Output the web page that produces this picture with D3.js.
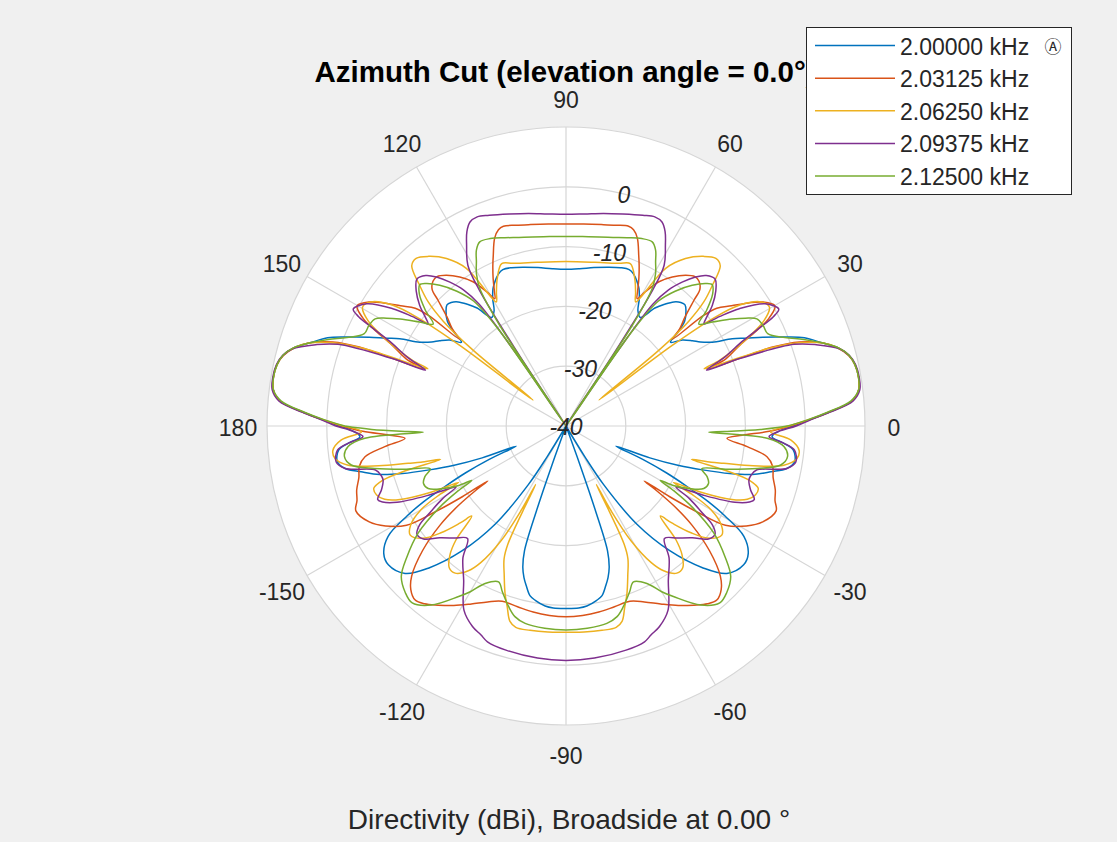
<!DOCTYPE html>
<html><head><meta charset="utf-8">
<script src="https://cdn.jsdelivr.net/npm/d3@7"></script>
<style>
body{margin:0;background:#f0f0f0;}
text{font-family:"Liberation Sans",Arial,Helvetica,sans-serif;}
</style>
</head><body>
<svg id="chart" width="1117" height="842"></svg>
<script>
// ---------- data (angle in degrees, directivity in dBi) ----------
const seriesNames = ["2.00000 kHz","2.03125 kHz","2.06250 kHz","2.09375 kHz","2.12500 kHz"];
const seriesColors = ["#0072BD","#D95319","#EDB120","#7E2F8E","#77AC30"];
const angleTicks = [0,30,60,90,120,150,180,-150,-120,-90,-60,-30];
const magRings = [-30,-20,-10,0,10];
const magLabels = [-40,-30,-20,-10,0];
const titleText = "Azimuth Cut (elevation angle = 0.0°)";
const captionText = "Directivity (dBi), Broadside at 0.00 °";

const blue = [[-180,-2],[-178.5,-4.5],[-177,-5.5],[-175.5,-3.5],[-174,-1.8],[-171.1,-1.3],[-169.1,-2.4],[-167.4,-4.9],[-165.4,-7.8],[-163.8,-11.5],[-162.2,-16],[-160.7,-20],[-159.2,-25],[-158,-31],[-156.5,-26],[-155,-21.5],[-153.5,-17.5],[-152,-13],[-150.5,-9.5],[-148.2,-5],[-145,-2.8],[-142,-2.3],[-137.5,-3.5],[-134,-7],[-129.8,-12.8],[-125.8,-19.8],[-122.7,-28.4],[-121.5,-34],[-120.5,-40],[-111.5,-40],[-109.8,-33],[-109.2,-25],[-108.4,-18],[-107,-15.3],[-105.5,-13.7],[-104,-12.5],[-102,-11],[-100,-10.4],[-96.6,-9.7],[-94,-9.5],
[-90,-9.5],[-86,-9.5],[-83.4,-9.7],[-80,-10.4],[-78,-11],[-76,-12.5],[-74.5,-13.7],[-73,-15.3],[-71.6,-18],[-70.8,-25],[-70.2,-33],[-68.5,-40],[-59.5,-40],[-58.5,-34],[-57.3,-28.4],[-54.2,-19.8],[-50.2,-12.8],[-46,-7],[-42.5,-3.5],[-38,-2.3],[-35,-2.8],[-31.8,-5],[-29.5,-9.5],[-28,-13],[-26.5,-17.5],[-25,-21.5],[-23.5,-26],[-22,-31],[-20.8,-25],[-19.3,-20],[-17.8,-16],[-16.2,-11.5],[-14.6,-7.8],[-12.6,-4.9],[-10.9,-2.4],[-8.9,-1.3],[-6,-1.8],[-4.5,-3.5],[-3,-5.5],[-1.5,-4.5],[0,-2],
[1.5,0.8],[3,4],[5,8],[7,9.3],[9.5,9.6],[12,9.4],[14,8.8],[16,7.4],[18,5],[20.3,2.5],[22,-0.3],[24.3,-3.9],[26,-6.5],[27.7,-8.6],[29.8,-11.8],[32,-13.5],[34,-14.5],[36.5,-15.8],[38.7,-17.6],[40,-15.5],[41.5,-13.5],[43.6,-12.3],[45.5,-11.6],[47.1,-11.8],[49,-12.5],[51,-13.8],[53,-15.3],[55.6,-18],[58,-17.3],[60,-15.5],[62,-14],[64,-13],[66,-12.2],[68,-11.8],[71,-12],[75,-12.5],[80,-13.1],[85,-13.6],[90,-13.8],
[95,-13.6],[100,-13.1],[105,-12.5],[109,-12],[112,-11.8],[114,-12.2],[116,-13],[118,-14],[120,-15.5],[122,-17.3],[124.4,-18],[127,-15.3],[129,-13.8],[131,-12.5],[132.9,-11.8],[134.5,-11.6],[136.4,-12.3],[138.5,-13.5],[140,-15.5],[141.3,-17.6],[143.5,-15.8],[146,-14.5],[148,-13.5],[150.2,-11.8],[152.3,-8.6],[154,-6.5],[155.7,-3.9],[158,-0.3],[159.7,2.5],[162,5],[164,7.4],[166,8.8],[168,9.4],[170.5,9.6],[173,9.3],[175,8],[177,4],[178.5,0.8],[180,-2]];

const orange = [[-180,-2.5],[-178.5,-6],[-177,-10.5],[-175.6,-13],[-173.5,-9.5],[-171.3,-6],[-169,-4.8],[-166,-4.3],[-163,-3.4],[-160.4,-2.9],[-158,-2.1],[-154,-3.4],[-151,-5.5],[-148.1,-8.6],[-146.8,-13.5],[-145.7,-19],[-144.9,-24],[-144.5,-21.5],[-143.5,-17.5],[-141.8,-13.2],[-139,-8.2],[-135.8,-4],[-133.5,-2.3],[-131,-1.5],[-128.5,-2],[-125.5,-3.2],[-122,-4.6],[-118,-6.3],[-114,-7.8],[-110,-8.8],[-105,-8.7],[-100,-8.4],[-95,-8.2],
[-90,-8.1],[-85,-8.2],[-80,-8.4],[-75,-8.7],[-70,-8.8],[-66,-7.8],[-62,-6.3],[-58,-4.6],[-54.5,-3.2],[-51.5,-2],[-49,-1.5],[-46.5,-2.3],[-44.2,-4],[-41,-8.2],[-38.2,-13.2],[-36.5,-17.5],[-35.5,-21.5],[-35.1,-24],[-34.3,-19],[-33.2,-13.5],[-31.9,-8.6],[-29,-5.5],[-26,-3.4],[-22,-2.1],[-19.6,-2.9],[-17,-3.4],[-14,-4.3],[-11,-4.8],[-8.7,-6],[-6.5,-9.5],[-4.4,-13],[-3,-10.5],[-1.5,-6],[0,-2.5],
[1.5,0.8],[3,4],[5,8],[7,9.3],[9.5,9.6],[12,9.4],[14,8.7],[16,7.3],[18,5],[19.8,1.5],[20.9,-3],[21.8,-14.2],[22.8,-11],[24.9,-8],[26.5,-4.5],[27.8,-1.8],[29.9,0.3],[32.3,-1.2],[34,-3.2],[36,-5.8],[38,-8],[38.8,-10.5],[39.2,-17],[40.5,-15],[42.5,-13],[44.5,-10],[45.6,-8],[47.5,-7.1],[49.2,-7],[51.5,-7.8],[54.5,-9.4],[57.2,-11.3],[59.5,-14],[60.8,-15.6],[62,-14.5],[63.7,-12.5],[65.5,-10.5],[66.9,-9],[69.2,-6.4],[71,-5.3],[72.6,-5],[76,-5.4],[80,-5.8],[85,-6.1],[90,-6.2],
[95,-6.1],[100,-5.8],[104,-5.4],[107.4,-5],[109,-5.3],[110.8,-6.4],[113.1,-9],[114.5,-10.5],[116.3,-12.5],[118,-14.5],[119.2,-15.6],[120.5,-14],[122.8,-11.3],[125.5,-9.4],[128.5,-7.8],[130.8,-7],[132.5,-7.1],[134.4,-8],[135.5,-10],[137.5,-13],[139.5,-15],[140.8,-17],[141.2,-10.5],[142,-8],[144,-5.8],[146,-3.2],[147.7,-1.2],[150.1,0.3],[152.2,-1.8],[153.5,-4.5],[155.1,-8],[157.2,-11],[158.2,-14.2],[159.1,-3],[160.2,1.5],[162,5],[164,7.3],[166,8.7],[168,9.4],[170.5,9.6],[173,9.3],[175,8],[177,4],[178.5,0.8],[180,-2.5]];

const yellow = [[-180,-2.8],[-178.4,-5.8],[-176.4,-2.3],[-174,-0.8],[-172,-1],[-169.8,-3],[-168,-8],[-166.7,-12.9],[-166,-15],[-165.1,-18.3],[-164.4,-12],[-163.5,-8],[-162,-6.2],[-160,-6.3],[-158,-7.3],[-156.5,-9],[-154.7,-12.7],[-153.5,-16],[-152.3,-19.7],[-151.5,-16],[-150,-12],[-147.5,-9.2],[-145,-8.2],[-142,-9.5],[-139.5,-12.5],[-137.5,-16],[-136.3,-18.2],[-134,-13.5],[-132,-11],[-129.5,-9.3],[-127,-9.2],[-124,-10.8],[-122,-13],[-119.5,-18],[-118,-24],[-117.4,-29],[-116.9,-24],[-116.2,-18],[-115,-15.5],[-112.5,-13],[-110,-10.2],[-108,-8.2],[-106,-6],[-104,-5.3],[-100,-5.3],[-95,-5.4],
[-90,-5.5],[-85,-5.4],[-80,-5.3],[-76,-5.3],[-74,-6],[-72,-8.2],[-70,-10.2],[-67.5,-13],[-65,-15.5],[-63.8,-18],[-63.1,-24],[-62.6,-29],[-62,-24],[-60.5,-18],[-58,-13],[-56,-10.8],[-53,-9.2],[-50.5,-9.3],[-48,-11],[-46,-13.5],[-43.7,-18.2],[-42.5,-16],[-40.5,-12.5],[-38,-9.5],[-35,-8.2],[-32.5,-9.2],[-30,-12],[-28.5,-16],[-27.7,-19.7],[-26.5,-16],[-25.3,-12.7],[-23.5,-9],[-22,-7.3],[-20,-6.3],[-18,-6.2],[-16.5,-8],[-15.6,-12],[-14.9,-18.3],[-14,-15],[-13.3,-12.9],[-12,-8],[-10.2,-3],[-8,-1],[-6,-0.8],[-3.6,-2.3],[-1.6,-5.8],[0,-2.8],
[1.5,0.6],[3,4],[5,8],[7,9.3],[9.5,9.6],[12,9.4],[14,8.8],[16,7.4],[18,5],[19.8,1],[21,-4],[22.5,-15],[23.2,-12],[24.5,-9],[26,-6],[28,-2.5],[30.3,-0.6],[32.4,-1.3],[34.9,-4.7],[36.2,-9.6],[37.2,-18],[38.2,-33],[39.2,-20],[40.5,-13],[42,-9],[43.9,-6],[46.1,-2.8],[48.2,-2.4],[51,-3.5],[54.5,-5.6],[57.7,-8.8],[59.7,-14.7],[60.7,-16.2],[62.5,-14.8],[65,-12.8],[68.4,-10.8],[72,-11.4],[80,-12.2],[90,-12.5],
[100,-12.2],[108,-11.4],[111.6,-10.8],[115,-12.8],[117.5,-14.8],[119.3,-16.2],[120.3,-14.7],[122.3,-8.8],[125.5,-5.6],[129,-3.5],[131.8,-2.4],[133.9,-2.8],[136.1,-6],[138,-9],[139.5,-13],[140.8,-20],[141.8,-33],[142.8,-18],[143.8,-9.6],[145.1,-4.7],[147.6,-1.3],[149.7,-0.6],[152,-2.5],[154,-6],[155.5,-9],[156.8,-12],[157.5,-15],[159,-4],[160.2,1],[162,5],[164,7.4],[166,8.8],[168,9.4],[170.5,9.6],[173,9.3],[175,8],[177,4],[178.5,0.6],[180,-2.8]];

const purple = [[-180,-1.5],[-178.5,-4.5],[-177,-6],[-175.5,-3.5],[-174,-1.6],[-171.1,-1.1],[-169.1,-2.4],[-167,-7.3],[-165,-8],[-163.5,-8.1],[-160.8,-7.3],[-158.7,-6.2],[-157.5,-6.8],[-155.7,-9],[-153.4,-14],[-152,-17.5],[-151,-19],[-149.5,-16],[-147.5,-13],[-146,-10.5],[-144,-9.2],[-141.6,-9.6],[-138.5,-11.8],[-135,-13.5],[-131.2,-15],[-128,-12],[-123.5,-9],[-119,-4.8],[-115,-3],[-112.2,-2.3],[-110,-1.6],[-105,-1.2],[-97,-0.9],
[-90,-0.8],[-83,-0.9],[-75,-1.2],[-70,-1.6],[-67.8,-2.3],[-65,-3],[-61,-4.8],[-56.5,-9],[-52,-12],[-48.8,-15],[-45,-13.5],[-41.5,-11.8],[-38.4,-9.6],[-36,-9.2],[-34,-10.5],[-32.5,-13],[-30.5,-16],[-29,-19],[-28,-17.5],[-26.6,-14],[-24.3,-9],[-22.5,-6.8],[-21.3,-6.2],[-19.2,-7.3],[-16.5,-8.1],[-15,-8],[-13,-7.3],[-10.9,-2.4],[-8.9,-1.1],[-6,-1.6],[-4.5,-3.5],[-3,-6],[-1.5,-4.5],[0,-1.5],
[1.5,1],[3,4.2],[5,8.2],[7,9.5],[9.5,9.7],[12,9.5],[14,8.8],[15.7,7.6],[18,4],[19.7,0.5],[21.2,-8.7],[21.7,-14.7],[23.5,-11],[25.4,-7.8],[26.7,-4.3],[27.8,-0.8],[28.8,0.6],[31.5,-0.9],[34.1,-5],[35.5,-8.5],[36.5,-11.3],[37.5,-10.5],[39.5,-8.3],[42,-6.3],[44.6,-5],[47,-5.6],[49,-7],[51,-9],[53,-11.5],[54.5,-15],[55.4,-25],[56,-40],[56.6,-25],[57.5,-13],[58.6,-8.5],[61.2,-5.5],[63,-3.5],[64.8,-2.3],[67,-2],[70,-2.5],[75,-3.3],[80,-3.9],[85,-4.4],[90,-4.6],
[95,-4.4],[100,-3.9],[105,-3.3],[110,-2.5],[113,-2],[115.2,-2.3],[117,-3.5],[118.8,-5.5],[121.4,-8.5],[122.5,-13],[123.4,-25],[124,-40],[124.6,-25],[125.5,-15],[127,-11.5],[129,-9],[131,-7],[133,-5.6],[135.4,-5],[138,-6.3],[140.5,-8.3],[142.5,-10.5],[143.5,-11.3],[144.5,-8.5],[145.9,-5],[148.5,-0.9],[151.2,0.6],[152.2,-0.8],[153.3,-4.3],[154.6,-7.8],[156.5,-11],[158.3,-14.7],[158.8,-8.7],[160.3,0.5],[162,4],[164.3,7.6],[166,8.8],[168,9.5],[170.5,9.7],[173,9.5],[175,8.2],[177,4.2],[178.5,1],[180,-1.5]];

const green = [[-180,-3],[-179,-7.5],[-178,-13.5],[-177.5,-16.1],[-176.5,-6.3],[-174.6,-3.4],[-172.1,-2.6],[-169.7,-3.5],[-167.5,-7.2],[-165,-12],[-162.5,-16.2],[-160.2,-14.9],[-158,-14.3],[-155.6,-14.7],[-153,-17],[-151,-19.5],[-150,-21.8],[-149,-19],[-147.2,-14.8],[-144.1,-9.5],[-140.5,-5.5],[-137.6,-2.7],[-134,-1.3],[-131,-0.8],[-127,-2.5],[-122.2,-6.3],[-120,-8],[-117.2,-10.4],[-113.4,-11.6],[-111,-10.3],[-107.6,-8.3],[-105,-7],[-101.7,-6.3],[-96,-6],
[-90,-5.9],[-84,-6],[-78.3,-6.3],[-75,-7],[-72.4,-8.3],[-69,-10.3],[-66.6,-11.6],[-62.8,-10.4],[-60,-8],[-57.8,-6.3],[-53,-2.5],[-49,-0.8],[-46,-1.3],[-42.4,-2.7],[-39.5,-5.5],[-35.9,-9.5],[-32.8,-14.8],[-31,-19],[-30,-21.8],[-29,-19.5],[-27,-17],[-24.4,-14.7],[-22,-14.3],[-19.8,-14.9],[-17.5,-16.2],[-15,-12],[-12.5,-7.2],[-10.3,-3.5],[-7.9,-2.6],[-5.4,-3.4],[-3.5,-6.3],[-2.5,-16.1],[-2,-13.5],[-1,-7.5],[0,-3],
[1.5,0.5],[3,3.8],[5,7.8],[7,9.3],[9.5,9.6],[12,9.4],[14,8.8],[16,7.4],[18,5],[20,2.3],[22,-0.5],[24.6,-2.9],[27,-3],[29.3,-3.4],[31,-5],[32.8,-7],[35.4,-10],[37.5,-12],[39.5,-9.5],[42,-7],[44,-6],[45.5,-6.6],[48.1,-8.4],[51,-11],[53.5,-14],[55,-20],[55.8,-40],[56.6,-20],[57.9,-12.9],[59.5,-10.5],[61.4,-8.7],[63,-7],[64.9,-6],[68,-6.2],[72,-6.9],[76,-7.5],[80,-7.9],[85,-8.2],[90,-8.3],
[95,-8.2],[100,-7.9],[104,-7.5],[108,-6.9],[112,-6.2],[115.1,-6],[117,-7],[118.6,-8.7],[120.5,-10.5],[122.1,-12.9],[123.4,-20],[124.2,-40],[125,-20],[126.5,-14],[129,-11],[131.9,-8.4],[134.5,-6.6],[136,-6],[138,-7],[140.5,-9.5],[142.5,-12],[144.6,-10],[147.2,-7],[149,-5],[150.7,-3.4],[153,-3],[155.4,-2.9],[158,-0.5],[160,2.3],[162,5],[164,7.4],[166,8.8],[168,9.4],[170.5,9.6],[173,9.3],[175,7.8],[177,3.8],[178.5,0.5],[180,-3]];

const seriesData = [blue, orange, yellow, purple, green];

// ---------- layout ----------
const svg = d3.select("#chart");
const cx = 566, cy = 426, R = 299;
const rScale = d3.scaleLinear().domain([-40, 10]).range([0, R]).clamp(true);
// math angle (deg, CCW from east) -> d3 radial angle (rad, CW from north)
const aScale = d3.scaleLinear().domain([-180, 180]).range([1.5 * Math.PI, -0.5 * Math.PI]);
const textCol = "#262626";

svg.append("rect").attr("width", 1117).attr("height", 842).attr("fill", "#f0f0f0");

const g = svg.append("g").attr("transform", `translate(${cx},${cy})`);

// plot disk
g.append("circle").attr("r", R).attr("fill", "#ffffff");

// grid rings
g.selectAll("circle.ring").data(magRings).join("circle")
  .attr("class", "ring").attr("r", d => rScale(d))
  .attr("fill", "none").attr("stroke", "#d6d6d6").attr("stroke-width", 1.2);

// spokes
g.selectAll("line.spoke").data(angleTicks).join("line")
  .attr("class", "spoke")
  .attr("x1", 0).attr("y1", 0)
  .attr("x2", d => R * Math.sin(aScale(d)))
  .attr("y2", d => -R * Math.cos(aScale(d)))
  .attr("stroke", "#d6d6d6").attr("stroke-width", 1.2);

// curves
const line = d3.lineRadial()
  .angle(d => aScale(d[0]))
  .radius(d => rScale(d[1]))
  .curve(d3.curveCatmullRom.alpha(0.5));

g.selectAll("path.series").data(seriesData).join("path")
  .attr("class", "series")
  .attr("d", d => line(d))
  .attr("fill", "none")
  .attr("stroke", (d, i) => seriesColors[i])
  .attr("stroke-width", 1.5)
  .attr("stroke-linejoin", "round");

// angle labels
const labR = 328;
g.selectAll("text.ang").data(angleTicks).join("text")
  .attr("class", "ang")
  .attr("x", d => labR * Math.sin(aScale(d)))
  .attr("y", d => -labR * Math.cos(aScale(d)) + 2)
  .attr("text-anchor", "middle").attr("dominant-baseline", "central")
  .attr("font-size", 23).attr("fill", textCol)
  .text(d => String(d));

// magnitude labels
const magAngle = aScale(76);
g.selectAll("text.mag").data(magLabels).join("text")
  .attr("class", "mag")
  .attr("x", d => rScale(d) * Math.sin(magAngle))
  .attr("y", d => -rScale(d) * Math.cos(magAngle) + 1)
  .attr("text-anchor", "middle").attr("dominant-baseline", "central")
  .attr("font-size", 23).attr("font-style", "italic").attr("fill", textCol)
  .text(d => String(d));

// title
svg.append("text").attr("x", cx - 1).attr("y", 82)
  .attr("text-anchor", "middle").attr("font-size", 29.5).attr("font-weight", "bold")
  .attr("fill", "#000").text(titleText);

// caption
svg.append("text").attr("x", 569).attr("y", 829)
  .attr("text-anchor", "middle").attr("font-size", 28)
  .attr("fill", textCol).text(captionText);

// legend
const lg = svg.append("g");
lg.append("rect").attr("x", 806.5).attr("y", 27.5).attr("width", 265).attr("height", 167)
  .attr("fill", "#ffffff").attr("stroke", "#262626").attr("stroke-width", 1);
const rowY = d3.scaleLinear().domain([0, 4]).range([45.5, 176]);
seriesNames.forEach((name, i) => {
  lg.append("line").attr("x1", 815).attr("x2", 895)
    .attr("y1", rowY(i)).attr("y2", rowY(i))
    .attr("stroke", seriesColors[i]).attr("stroke-width", 1.5);
  lg.append("text").attr("x", 900).attr("y", rowY(i) + 1)
    .attr("dominant-baseline", "central").attr("font-size", 23)
    .attr("fill", textCol).text(name);
});
lg.append("text").attr("x", 1053).attr("y", rowY(0) + 1)
  .attr("text-anchor", "middle").attr("dominant-baseline", "central")
  .attr("font-size", 17).attr("fill", textCol)
  .style("font-family", "'DejaVu Sans','Noto Sans CJK JP',sans-serif")
  .text("\u24B6");
</script>
</body></html>
